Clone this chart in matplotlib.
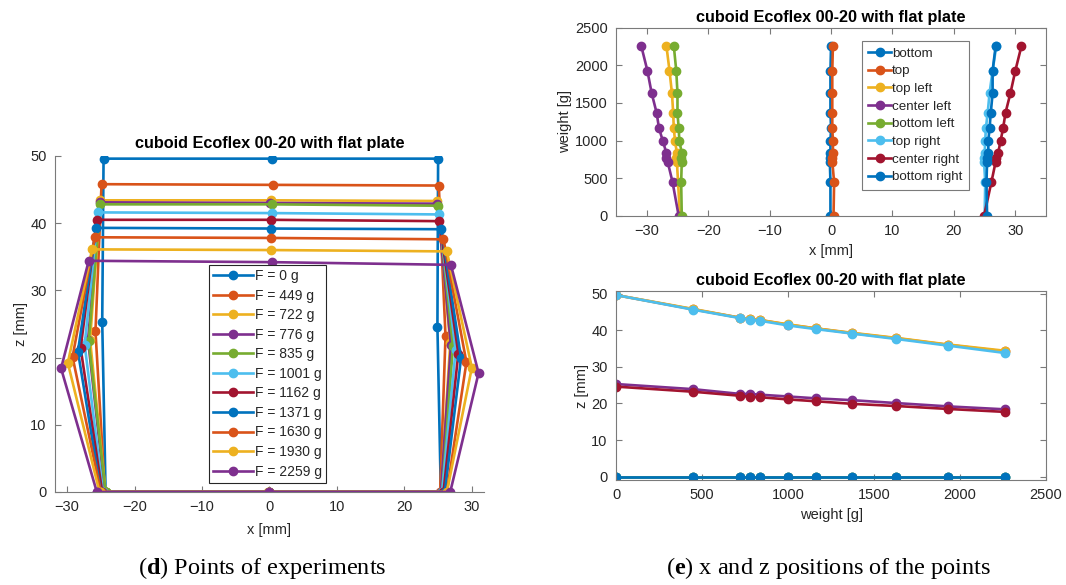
import numpy as np
import matplotlib
matplotlib.use("Agg")
import matplotlib.pyplot as plt

plt.rcParams["font.family"] = ["Liberation Sans", "DejaVu Sans"]
plt.rcParams["mathtext.fontset"] = "custom"
plt.rcParams["mathtext.rm"] = "Liberation Serif"
plt.rcParams["mathtext.bf"] = "Liberation Serif:bold"

# ── Measured point positions per load step ──────────────────────────────────
weights = [0, 449, 722, 776, 835, 1001, 1162, 1371, 1630, 1930, 2259]

x_bottom       = [-0.1, -0.1, -0.2, -0.1, -0.1, -0.1, 0.0, -0.1, -0.1, -0.1, 0.0]
x_top          = [0.4, 0.5, 0.2, 0.1, 0.3, 0.3, 0.2, 0.2, 0.2, 0.2, 0.3]
x_top_left     = [-24.6, -24.9, -25.1, -25.2, -25.1, -25.4, -25.6, -25.7, -25.9, -26.3, -26.8]
x_center_left  = [-24.8, -25.8, -26.6, -26.9, -26.8, -27.4, -28.0, -28.4, -29.2, -29.9, -30.9]
x_bottom_left  = [-24.3, -24.4, -24.3, -24.4, -24.3, -24.7, -24.8, -25.0, -25.0, -25.2, -25.6]
x_top_right    = [25.0, 25.1, 24.9, 24.9, 25.0, 25.1, 25.2, 25.5, 25.8, 26.3, 26.9]
x_center_right = [24.9, 26.1, 26.8, 26.9, 27.2, 27.6, 28.0, 28.4, 29.2, 30.0, 31.0]
x_bottom_right = [25.4, 25.3, 25.4, 25.4, 25.6, 25.6, 25.8, 26.0, 26.3, 26.3, 26.8]

z_bottom       = [0.0, 0.0, 0.0, 0.0, 0.0, 0.0, 0.0, 0.0, 0.0, 0.0, 0.0]
z_top          = [49.6, 45.7, 43.4, 43.0, 42.8, 41.5, 40.5, 39.2, 37.8, 36.0, 34.2]
z_top_left     = [49.6, 45.8, 43.4, 43.1, 42.8, 41.6, 40.5, 39.3, 37.9, 36.1, 34.4]
z_center_left  = [25.3, 23.9, 22.6, 22.6, 22.4, 21.9, 21.4, 20.9, 20.1, 19.2, 18.4]
z_bottom_left  = [0.0, 0.0, 0.0, 0.0, 0.0, 0.0, 0.0, 0.0, 0.0, 0.0, 0.0]
z_top_right    = [49.6, 45.6, 43.3, 42.9, 42.6, 41.3, 40.3, 39.1, 37.6, 35.8, 33.8]
z_center_right = [24.6, 23.2, 22.1, 21.8, 21.7, 21.1, 20.6, 19.9, 19.3, 18.5, 17.7]
z_bottom_right = [0.0, 0.0, 0.0, 0.0, 0.0, 0.0, 0.0, 0.0, 0.0, 0.0, 0.0]

point_names = ["bottom", "top", "top left", "center left", "bottom left",
               "top right", "center right", "bottom right"]
x_points = [x_bottom, x_top, x_top_left, x_center_left, x_bottom_left,
            x_top_right, x_center_right, x_bottom_right]
z_points = [z_bottom, z_top, z_top_left, z_center_left, z_bottom_left,
            z_top_right, z_center_right, z_bottom_right]

# outline order around the cuboid cross-section (indices into point_names)
outline = [4, 3, 2, 1, 5, 6, 7, 0, 4]

COLORS = ["#0072BD", "#D95319", "#EDB120", "#7E2F8E",
          "#77AC30", "#4DBEEE", "#A2142F"]
TITLE = "cuboid Ecoflex 00-20 with flat plate"
TXT = "#262626"
AXC = "#7a7a7a"
LW, MS = 1.9, 6.0
FS = 10.5


def style(ax, box):
    for s in ax.spines.values():
        s.set_color(AXC)
        s.set_linewidth(0.8)
    if not box:
        ax.spines["top"].set_visible(False)
        ax.spines["right"].set_visible(False)
    ax.tick_params(direction="in", length=4, width=0.8, color=AXC, pad=6,
                   labelsize=FS, labelcolor=TXT, top=box, right=box)


fig = plt.figure(figsize=(10.66, 5.85), dpi=100)

# ── (d) outline of all points per load ──────────────────────────────────────
ax = fig.add_axes([0.0516, 0.159, 0.4024, 0.5744])
for i, w in enumerate(weights):
    xs = [x_points[k][i] for k in outline]
    zs = [z_points[k][i] for k in outline]
    ax.plot(xs, zs, "-o", color=COLORS[i % 7], lw=LW, ms=MS,
            label=f"F = {w} g")
ax.set_xlim(-31.8, 31.8)
ax.set_ylim(0, 50)
ax.set_xticks([-30, -20, -10, 0, 10, 20, 30])
ax.set_yticks([0, 10, 20, 30, 40, 50])
style(ax, box=False)
ax.set_xlabel("x [mm]", fontsize=FS, color=TXT, labelpad=6)
ax.set_ylabel("z [mm]", fontsize=FS, color=TXT, labelpad=2)
ax.set_title(TITLE, fontsize=11.7, fontweight="bold", pad=6)
leg = ax.legend(loc="upper left", bbox_to_anchor=(0.359, 0.676),
                borderaxespad=0, fontsize=10, handlelength=2.9,
                handletextpad=0.1, labelspacing=0.4, borderpad=0.3,
                fancybox=False, framealpha=1)
leg.get_frame().set_edgecolor(TXT)
leg.get_frame().set_linewidth(0.8)
for t in leg.get_texts():
    t.set_color(TXT)

# ── (e) top: x position vs weight ───────────────────────────────────────────
ax1 = fig.add_axes([0.5779, 0.6308, 0.4034, 0.3219])
for k, name in enumerate(point_names):
    ax1.plot(x_points[k], weights, "-o", color=COLORS[k % 7], lw=LW,
             ms=MS, label=name)
ax1.set_xlim(-35, 35)
ax1.set_ylim(0, 2500)
ax1.set_xticks([-30, -20, -10, 0, 10, 20, 30])
ax1.set_yticks([0, 500, 1000, 1500, 2000, 2500])
style(ax1, box=True)
ax1.set_xlabel("x [mm]", fontsize=FS, color=TXT, labelpad=4)
ax1.set_ylabel("weight [g]", fontsize=FS, color=TXT, labelpad=2)
ax1.set_title(TITLE, fontsize=11.7, fontweight="bold", pad=4)
leg1 = ax1.legend(loc="upper left", bbox_to_anchor=(0.571, 0.931),
                  borderaxespad=0, fontsize=9.6, handlelength=1.7,
                  handletextpad=0.1, labelspacing=0.4, borderpad=0.5,
                  fancybox=False, framealpha=1)
leg1.get_frame().set_edgecolor(AXC)
leg1.get_frame().set_linewidth(0.8)
for t in leg1.get_texts():
    t.set_color(TXT)

# ── (e) bottom: z position vs weight ────────────────────────────────────────
ax2 = fig.add_axes([0.5779, 0.1795, 0.4034, 0.323])
for k, name in enumerate(point_names):
    ax2.plot(weights, z_points[k], "-o", color=COLORS[k % 7], lw=LW,
             ms=MS, label=name)
ax2.set_xlim(0, 2500)
ax2.set_ylim(-0.9, 50.7)
ax2.set_xticks([0, 500, 1000, 1500, 2000, 2500])
ax2.set_yticks([0, 10, 20, 30, 40, 50])
style(ax2, box=True)
ax2.set_xlabel("weight [g]", fontsize=FS, color=TXT, labelpad=4)
ax2.set_ylabel("z [mm]", fontsize=FS, color=TXT, labelpad=2)
ax2.set_title(TITLE, fontsize=11.7, fontweight="bold", pad=4)

# ── sub-figure captions ─────────────────────────────────────────────────────
cap = dict(fontsize=17.5, family="Liberation Serif", ha="center", va="center",
           color="black")
fig.text(0.2458, 0.029, r"($\mathbf{d}$) Points of experiments", **cap)
fig.text(0.7772, 0.029, r"($\mathbf{e}$) x and z positions of the points", **cap)

fig.savefig("out.png", dpi=100)
